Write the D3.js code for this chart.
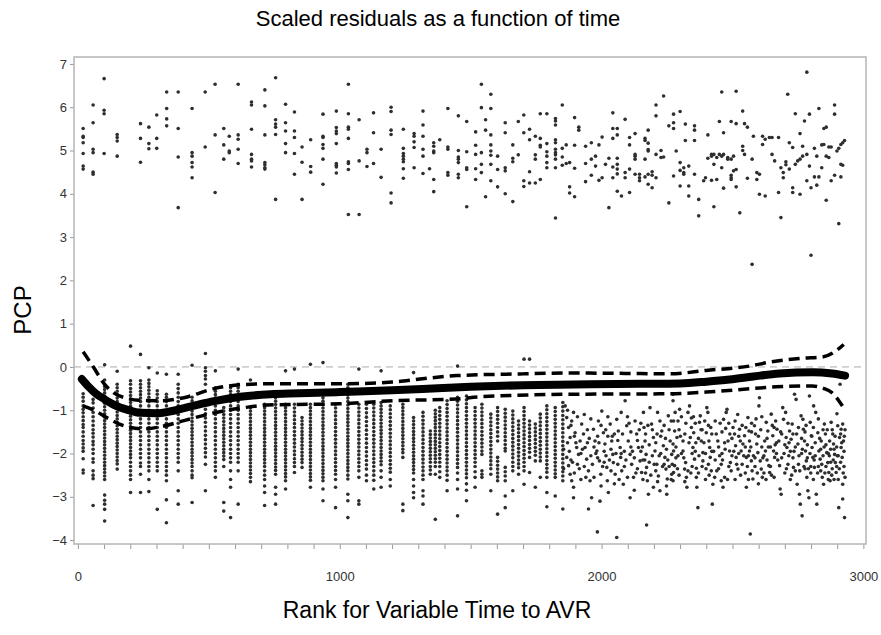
<!DOCTYPE html>
<html>
<head>
<meta charset="utf-8">
<script src="https://d3js.org/d3.v7.min.js"></script>
<style>
body { margin: 0; background: #fff; }
text { font-family: "Liberation Sans", Arial, sans-serif; }
</style>
</head>
<body>
<script>
// upper cluster, [rank, PCP]
let upperPts = [[20,5.51],[20,5.33],[20,5.30],[20,5.18],[20,4.93],[20,4.64],[20,4.57],
[58,6.05],[58,5.64],[58,5.03],[58,4.95],[58,4.50],[58,4.45],[100,6.66],[100,5.93],[100,5.85],[100,4.93],
[150,5.37],[150,5.30],[150,5.22],[150,4.87],[239,5.62],[239,5.28],[239,4.73],[271,5.54],[271,5.16],[271,5.04],
[301,5.82],[301,5.28],[301,5.05],[339,6.35],[339,5.97],[339,5.73],[339,5.57],[383,6.35],[383,5.51],[383,4.85],[383,3.68],
[436,5.97],[436,4.95],[436,4.87],[436,4.72],[436,4.62],[436,4.37],[486,6.35],[486,5.08],[524,6.53],[524,5.36],[524,4.03],
[557,5.51],[557,5.13],[557,4.80],[578,5.33],[578,4.99],[578,4.95],[612,6.53],[612,5.36],[612,5.26],[612,5.03],[612,4.70],
[663,6.12],[663,6.05],[663,5.49],[663,4.91],[663,4.80],[663,4.76],[663,4.62],[714,6.40],[714,6.03],[714,5.36],[714,4.72],[714,4.67],[714,4.60],[714,4.57],
[755,6.68],[755,5.71],[755,5.61],[755,5.54],[755,5.37],[755,3.87],[793,6.07],[793,5.64],[793,5.45],[793,5.16],[793,4.95],
[827,5.89],[827,5.45],[827,5.30],[827,4.93],[827,4.45],[856,5.08],[856,4.73],[856,3.87],[889,5.25],[889,4.63],[889,4.50],
[936,5.84],[936,5.33],[936,5.30],[936,5.14],[936,5.05],[936,4.80],[936,4.22],
[987,5.91],[987,5.53],[987,5.45],[987,5.39],[987,5.16],[987,4.70],[987,4.66],[987,4.62],[987,4.48],
[1033,6.53],[1033,5.85],[1033,5.54],[1033,5.49],[1033,5.28],[1033,4.74],[1033,4.70],[1033,4.56],[1033,3.52],
[1074,5.71],[1074,4.76],[1074,3.52],[1104,5.03],[1104,4.95],[1104,4.63],[1129,5.87],[1129,5.41],[1129,4.70],[1158,5.03],[1158,4.38],
[1196,6.00],[1196,5.90],[1196,5.47],[1196,5.37],[1196,4.02],[1196,3.79],
[1243,5.49],[1243,5.05],[1243,4.93],[1243,4.87],[1243,4.80],[1243,4.74],[1243,4.58],[1243,4.36],
[1284,5.39],[1284,5.33],[1284,5.20],[1284,5.07],[1284,4.60],[1318,5.91],[1318,5.59],[1318,5.33],[1318,5.03],[1318,4.87],[1318,4.47],
[1343,4.58],[1359,5.18],[1359,5.10],[1359,4.99],[1359,4.95],[1359,4.33],[1359,4.05],[1382,5.25],
[1413,5.97],[1413,5.08],[1413,5.03],[1413,4.49],[1413,4.43],[1453,5.80],[1453,5.00],[1453,4.85],[1453,4.80],[1453,4.72],[1453,4.45],[1453,4.37],
[1485,5.67],[1485,4.97],[1485,4.60],[1485,4.56],[1485,3.70],[1519,5.43],[1519,5.12],[1519,4.91],[1519,4.58],[1519,4.33],
[1541,6.53],[1541,5.99],[1541,4.95],[1541,4.68],[1541,4.49],[1557,5.71],[1557,5.47],[1557,3.93],
[1577,6.30],[1577,5.97],[1577,5.36],[1577,5.13],[1577,4.99],[1577,4.89],[1577,4.68],[1577,4.30],[1603,4.87],[1603,4.56],[1603,4.16],
[1632,5.64],[1632,5.41],[1632,4.60],[1632,4.53],[1632,4.00],[1661,5.13],[1661,4.82],[1661,4.74],[1661,3.82],[1682,5.67],[1682,4.90],
[1703,5.82],[1703,5.41],[1703,4.30],[1703,4.17],[1725,5.49],[1725,5.25],[1725,4.51],[1725,4.25],[1747,5.33],[1747,4.90],[1747,4.80],[1747,4.25],
[1766,5.85],[1766,5.28],[1766,5.12],[1766,5.08],[1766,4.33],[1791,5.85],[1791,5.16],[1791,4.97],[1791,4.87],[1791,4.72],[1791,4.60],
[1824,5.74],[1824,5.68],[1824,5.59],[1824,5.25],[1824,5.18],[1824,5.03],[1824,4.95],[1824,4.90],[1824,4.80],[1824,4.60],[1824,3.44],
[1850,6.05],[1850,5.05],[1850,4.85],[1850,4.66],[1865,5.13],[1865,4.70],[1878,4.72],[1878,4.16],[1878,4.02],
[1897,5.76],[1897,5.12],[1897,4.59],[1897,3.93],[1913,5.54],[1913,5.47],[1939,5.10],[1939,4.70],[1939,4.28],
[1961,5.18],[1961,4.80],[1961,4.43],[1977,4.87],[1977,4.64],[1990,5.13],[1990,4.31],[2002,5.31],[2002,4.37],[2015,4.68],[2028,4.82],[2028,3.68],
[2043,5.87],[2043,5.51],[2043,5.28],[2043,4.62],[2043,4.37],[2060,5.51],[2060,5.36],[2060,4.82],[2060,4.68],[2060,4.57],[2060,4.46],[2060,4.06],[2076,3.95],
[2090,5.72],[2090,4.49],[2090,4.37],[2107,5.30],[2107,5.13],[2107,4.57],[2107,4.03],[2128,5.39],[2128,4.91],[2128,4.87],[2128,4.80],[2128,4.45],
[2145,4.45],[2145,4.37],[2145,4.30],[2166,5.28],[2166,5.23],[2166,4.80],[2166,4.39],[2178,5.47],[2178,5.17],[2178,5.02],[2178,4.99],[2178,4.45],[2178,4.22],
[2193,4.51],[2193,4.43],[2193,4.14],[2208,6.05],[2208,5.80],[2208,4.91],[2208,4.37],[2227,5.00],[2227,4.84],[2237,6.26],[2237,4.85],
[2257,5.57],[2257,3.79],[2275,5.84],[2275,5.64],[2275,5.51],[2275,4.41],[2285,4.99],[2300,5.90],[2300,4.72],[2300,4.54],[2300,4.18],
[2314,4.60],[2314,4.49],[2314,4.45],[2320,5.61],[2320,5.23],[2333,4.64],[2333,4.18],[2333,3.95],[2355,5.57],[2355,5.47],[2355,5.23],[2355,4.45],
[2371,3.87],[2371,3.49],[2390,4.30],[2397,4.37],[2406,5.36],[2406,4.82],[2420,4.91],[2420,4.87],[2420,4.31],[2429,4.91],[2429,4.68],[2429,3.70],
[2440,4.84],[2440,4.33],[2450,5.67],[2450,4.91],[2459,6.35],[2459,4.87],[2459,4.60],[2466,5.41],[2466,4.91],[2466,4.13],[2482,4.84],[2482,4.80],
[2495,5.67],[2495,4.80],[2495,4.43],[2495,4.37],[2495,4.33],[2504,4.87],[2504,4.53],[2514,6.37],[2514,5.62],[2514,4.56],[2514,4.16],[2528,3.56],
[2539,5.91],[2539,5.10],[2539,5.00],[2546,5.62],[2546,4.91],[2557,5.54],[2557,4.36],[2575,2.37],[2575,4.80],[2580,5.33],[2593,4.49],[2593,4.33],
[2603,3.99],[2603,4.45],[2615,5.33],[2615,5.14],[2625,5.26],[2625,3.95],[2641,5.30],[2651,5.30],[2651,4.91],[2661,4.76],[2676,5.30],[2676,4.03],
[2685,4.60],[2685,3.45],[2694,4.37],[2694,4.49],[2704,4.74],[2704,4.67],[2711,6.30],[2717,5.18],[2717,4.57],[2730,5.07],[2730,4.03],[2730,4.14],
[2740,5.85],[2740,4.68],[2749,4.76],[2758,5.39],[2758,4.80],[2758,3.99],[2768,5.10],[2768,4.87],[2775,5.68],[2784,6.81],[2784,4.91],[2784,4.30],
[2794,5.84],[2794,4.64],[2800,2.58],[2800,4.14],[2813,5.05],[2813,4.39],[2822,4.87],[2822,4.20],[2830,5.97],[2830,4.39],[2841,5.13],[2841,4.60],
[2849,5.51],[2849,5.14],[2858,5.54],[2858,4.87],[2858,3.85],[2868,5.08],[2868,4.84],[2877,5.08],[2877,4.30],[2890,6.05],[2890,5.84],[2890,4.43],
[2899,4.99],[2906,3.31],[2906,5.05],[2914,4.39],[2914,4.68],[2914,5.14],[2921,5.18],[2921,4.66],[2928,5.23]]

// lower cluster, tied ranks stacked in columns: [rank, [PCP...]]
let lowerCols = [
[20,[-0.62,-0.7,-0.79,-0.9,-0.98,-1.06,-1.15,-1.24,-1.33,-1.4,-1.5,-1.6,-1.7,-1.78,-1.87,-1.95,-2.12,-2.38,-2.45]],
[58,[-0.75,-0.83,-0.95,-1.05,-1.15,-1.25,-1.35,-1.45,-1.53,-1.62,-1.72,-1.8,-1.9,-2.0,-2.12,-2.2,-2.4,-2.5,-2.58,-3.2]],
[102,[0.05,-0.3,-0.45,-0.52,-0.6,-0.68,-0.76,-0.84,-0.92,-1.0,-1.08,-1.16,-1.24,-1.32,-1.4,-1.48,-1.56,-1.64,-1.72,-1.8,-1.88,-1.96,-2.04,-2.12,-2.2,-2.28,-2.36,-2.44,-2.52,-2.6,-2.96,-3.08,-3.17,-3.29,-3.56]],
[150,[-0.1,-0.4,-0.48,-0.56,-0.64,-0.72,-0.8,-0.88,-0.96,-1.04,-1.12,-1.2,-1.28,-1.36,-1.44,-1.52,-1.6,-1.68,-1.76,-1.84,-1.92,-2.0,-2.08,-2.16,-2.24,-2.36]],
[201,[0.48,-0.32,-0.4,-0.5,-0.58,-0.66,-0.74,-0.82,-0.9,-0.98,-1.06,-1.14,-1.22,-1.3,-1.38,-1.46,-1.54,-1.62,-1.7,-1.78,-1.86,-1.94,-2.02,-2.1,-2.2,-2.3,-2.4,-2.5,-2.6,-2.9]],
[239,[0.29,-0.32,-0.4,-0.48,-0.56,-0.64,-0.72,-0.8,-0.9,-1.0,-1.1,-1.2,-1.3,-1.4,-1.5,-1.6,-1.7,-1.8,-1.9,-2.0,-2.1,-2.22,-2.3,-2.48,-2.9]],
[271,[-0.02,-0.3,-0.38,-0.46,-0.54,-0.62,-0.7,-0.8,-0.9,-1.0,-1.1,-1.2,-1.3,-1.4,-1.5,-1.6,-1.7,-1.8,-1.9,-2.0,-2.1,-2.2,-2.3,-2.4,-2.6,-2.88]],
[303,[-0.14,-0.55,-0.63,-0.72,-0.8,-0.9,-1.0,-1.1,-1.2,-1.3,-1.4,-1.5,-1.6,-1.7,-1.8,-1.9,-2.0,-2.1,-2.2,-2.3,-2.4,-3.29]],
[338,[-0.17,-0.63,-0.7,-0.8,-0.9,-1.0,-1.1,-1.2,-1.3,-1.4,-1.5,-1.6,-1.7,-1.8,-1.9,-2.0,-2.1,-2.2,-2.3,-2.4,-2.5,-2.63,-3.07,-3.6]],
[383,[-0.17,-0.4,-0.5,-0.6,-0.7,-0.8,-0.9,-1.0,-1.1,-1.2,-1.3,-1.4,-1.5,-1.6,-1.7,-1.8,-1.9,-2.0,-2.1,-2.2,-2.4,-2.86,-3.17]],
[436,[0.04,-0.7,-0.78,-0.86,-0.94,-1.02,-1.1,-1.18,-1.26,-1.34,-1.42,-1.5,-1.58,-1.66,-1.74,-1.82,-1.9,-1.98,-2.06,-2.14,-2.22,-2.3,-2.4,-2.5,-2.56,-3.13]],
[487,[0.31,-0.02,-0.1,-0.2,-0.28,-0.4,-0.78,-0.88,-0.98,-1.08,-1.18,-1.28,-1.38,-1.48,-1.58,-1.68,-1.78,-1.88,-1.98,-2.08,-2.25,-2.86]],
[525,[-0.09,-0.48,-0.56,-0.64,-0.72,-0.8,-0.9,-1.0,-1.1,-1.2,-1.3,-1.4,-1.5,-1.6,-1.7,-1.8,-1.9,-2.0,-2.1,-2.2,-2.3,-2.4,-2.55]],
[557,[-0.94,-1.02,-1.1,-1.18,-1.26,-1.34,-1.42,-1.5,-1.58,-1.66,-1.74,-1.82,-1.9,-1.98,-2.06,-2.14,-2.3,-3.13,-3.33]],
[583,[-0.48,-0.56,-0.64,-0.72,-0.8,-0.9,-1.0,-1.1,-1.2,-1.3,-1.4,-1.5,-1.6,-1.7,-1.8,-1.9,-2.0,-2.1,-2.2,-2.4,-2.6,-2.78,-3.48]],
[612,[-0.05,-0.4,-0.48,-0.56,-0.64,-0.72,-0.8,-0.9,-1.0,-1.1,-1.2,-1.3,-1.4,-1.5,-1.6,-1.7,-1.8,-1.9,-2.0,-2.1,-2.2,-2.4,-3.17]],
[659,[-0.3,-0.94,-1.02,-1.1,-1.18,-1.26,-1.34,-1.42,-1.5,-1.58,-1.66,-1.74,-1.82,-1.9,-1.98,-2.06,-2.14,-2.22,-2.3,-2.38,-2.46,-2.55,-2.65]],
[713,[-0.86,-0.94,-1.02,-1.1,-1.18,-1.26,-1.34,-1.42,-1.5,-1.58,-1.66,-1.74,-1.82,-1.9,-1.98,-2.06,-2.14,-2.22,-2.3,-2.4,-2.5,-2.6,-2.75,-2.9,-3.2]],
[755,[-0.71,-0.79,-0.87,-0.95,-1.03,-1.11,-1.19,-1.27,-1.35,-1.43,-1.51,-1.59,-1.67,-1.75,-1.83,-1.91,-1.99,-2.07,-2.15,-2.23,-2.31,-2.39,-2.48,-2.78,-2.94,-3.17]],
[793,[-0.09,-0.86,-0.94,-1.02,-1.1,-1.18,-1.26,-1.34,-1.42,-1.5,-1.58,-1.66,-1.74,-1.82,-1.9,-1.98,-2.06,-2.14,-2.22,-2.3,-2.38,-2.46,-2.54,-2.63,-2.82]],
[827,[-0.05,-0.86,-0.95,-1.04,-1.13,-1.22,-1.31,-1.4,-1.49,-1.58,-1.67,-1.76,-1.85,-1.94,-2.03,-2.12,-2.21,-2.3,-2.44]],
[856,[-1.17,-1.25,-1.33,-1.41,-1.49,-1.57,-1.65,-1.73,-1.81,-1.89,-1.97,-2.05,-2.13,-2.21,-2.32]],
[888,[0.06,-0.86,-0.94,-1.02,-1.1,-1.18,-1.26,-1.34,-1.42,-1.5,-1.58,-1.66,-1.74,-1.82,-1.9,-1.98,-2.06,-2.14,-2.22,-2.3,-2.38,-2.46,-2.54,-2.62,-2.78]],
[936,[0.1,-0.55,-0.63,-0.71,-0.79,-0.87,-0.95,-1.03,-1.11,-1.19,-1.27,-1.35,-1.43,-1.51,-1.59,-1.67,-1.75,-1.83,-1.91,-1.99,-2.07,-2.15,-2.23,-2.31,-2.39,-2.47,-2.55,-2.63,-2.82,-3.09]],
[984,[-0.86,-0.95,-1.04,-1.13,-1.22,-1.31,-1.4,-1.49,-1.58,-1.67,-1.76,-1.85,-1.94,-2.03,-2.12,-2.21,-2.3,-2.39,-2.48,-2.6,-2.78,-3.25]],
[1031,[-0.4,-0.48,-0.56,-0.64,-0.72,-0.8,-0.88,-0.96,-1.04,-1.12,-1.2,-1.28,-1.36,-1.44,-1.52,-1.6,-1.68,-1.76,-1.84,-1.92,-2.0,-2.08,-2.16,-2.24,-2.32,-2.4,-2.5,-2.59,-2.94,-3.09,-3.48]],
[1073,[-0.05,-0.86,-0.95,-1.04,-1.13,-1.22,-1.31,-1.4,-1.49,-1.58,-1.67,-1.76,-1.85,-1.94,-2.03,-2.12,-2.21,-2.3,-2.4,-2.55,-3.09,-3.17]],
[1102,[-0.86,-0.96,-1.06,-1.16,-1.26,-1.36,-1.46,-1.56,-1.66,-1.76,-1.86,-1.96,-2.06,-2.16,-2.26,-2.36,-2.5,-2.63]],
[1130,[-0.86,-0.95,-1.04,-1.13,-1.22,-1.31,-1.4,-1.49,-1.58,-1.67,-1.76,-1.85,-1.94,-2.03,-2.12,-2.21,-2.3,-2.4,-2.5,-2.62,-2.82]],
[1158,[-0.09,-0.82,-0.9,-0.98,-1.06,-1.14,-1.22,-1.3,-1.38,-1.46,-1.54,-1.62,-1.7,-1.78,-1.86,-1.94,-2.02,-2.1,-2.18,-2.26,-2.4,-2.55,-2.78]],
[1193,[-0.9,-0.99,-1.08,-1.17,-1.26,-1.35,-1.44,-1.53,-1.62,-1.71,-1.8,-1.89,-1.98,-2.07,-2.16,-2.25,-2.34,-2.43,-2.6,-2.75]],
[1241,[-0.86,-0.94,-1.02,-1.1,-1.18,-1.26,-1.34,-1.42,-1.5,-1.58,-1.66,-1.74,-1.82,-1.9,-1.98,-2.09,-3.17,-3.32]],
[1282,[-0.13,-1.17,-1.25,-1.33,-1.41,-1.49,-1.57,-1.65,-1.73,-1.81,-1.89,-1.97,-2.05,-2.13,-2.21,-2.29,-2.37,-2.45,-2.6,-2.75,-2.9,-3.02]],
[1318,[-1.05,-1.14,-1.23,-1.32,-1.41,-1.5,-1.59,-1.68,-1.77,-1.86,-1.95,-2.04,-2.13,-2.22,-2.31,-2.4,-2.5,-2.6,-2.86,-2.98,-3.17]],
[1346,[-1.48,-1.56,-1.64,-1.72,-1.8,-1.88,-1.96,-2.04,-2.12,-2.2,-2.3,-2.38,-2.48]],
[1365,[-1.0,-1.08,-1.16,-1.24,-1.32,-1.4,-1.48,-1.56,-1.64,-1.72,-1.8,-1.88,-1.96,-2.04,-2.12,-2.2,-2.3,-2.48,-3.52]],
[1382,[-0.94,-1.03,-1.12,-1.21,-1.3,-1.39,-1.48,-1.57,-1.66,-1.75,-1.84,-1.93,-2.02,-2.11,-2.2,-2.3,-2.42,-2.55]],
[1410,[-0.78,-0.87,-0.96,-1.05,-1.14,-1.23,-1.32,-1.41,-1.5,-1.59,-1.68,-1.77,-1.86,-1.95,-2.04,-2.13,-2.22,-2.31,-2.4,-2.5,-2.62,-2.86]],
[1450,[0.02,-0.7,-0.79,-0.88,-0.97,-1.06,-1.15,-1.24,-1.33,-1.42,-1.51,-1.6,-1.69,-1.78,-1.87,-1.96,-2.05,-2.14,-2.23,-2.32,-2.45,-2.6,-2.82,-3.44]],
[1484,[-0.67,-0.76,-0.85,-0.94,-1.03,-1.12,-1.21,-1.3,-1.39,-1.48,-1.57,-1.66,-1.75,-1.84,-1.93,-2.02,-2.11,-2.2,-2.29,-2.38,-2.47,-2.56,-2.7,-2.85,-3.09]],
[1517,[-0.94,-1.03,-1.12,-1.21,-1.3,-1.39,-1.48,-1.57,-1.66,-1.75,-1.84,-1.93,-2.02,-2.11,-2.2,-2.3,-2.42,-2.55,-2.78]],
[1543,[-0.86,-0.95,-1.04,-1.13,-1.22,-1.31,-1.4,-1.49,-1.58,-1.67,-1.76,-1.85,-1.94,-2.02,-2.4,-2.48,-2.55]],
[1577,[-1.09,-1.18,-1.27,-1.36,-1.45,-1.54,-1.63,-1.72,-1.81,-1.9,-1.99,-2.08,-2.17,-2.26,-2.35,-2.48,-2.86]],
[1603,[-0.94,-1.03,-1.12,-1.21,-1.3,-1.4,-1.5,-1.6,-1.71,-2.09,-2.18,-2.27,-2.36,-2.45,-2.54,-2.63,-3.4]],
[1632,[-0.98,-1.07,-1.16,-1.25,-1.34,-1.43,-1.52,-1.61,-1.7,-1.79,-1.88,-1.94,-2.32,-2.42,-2.52,-2.63,-2.98,-3.25]],
[1661,[-1.02,-1.11,-1.2,-1.29,-1.38,-1.47,-1.56,-1.65,-1.74,-1.83,-1.92,-2.01,-2.1,-2.2,-2.3,-2.4,-2.86]],
[1683,[-1.25,-1.34,-1.43,-1.52,-1.61,-1.7,-1.79,-1.88,-1.97,-2.06,-2.15,-2.24,-2.33,-2.48]],
[1704,[0.18,-0.94,-1.03,-1.12,-1.21,-1.3,-1.39,-1.48,-1.57,-1.66,-1.75,-1.84,-1.93,-2.02,-2.11,-2.2,-2.3,-2.4,-2.71]],
[1725,[0.18,-1.25,-1.34,-1.43,-1.52,-1.61,-1.7,-1.79,-1.88,-1.97,-2.09,-2.44]],
[1747,[-1.32,-1.41,-1.5,-1.59,-1.68,-1.77,-1.86,-1.95,-2.04,-2.17,-2.78]],
[1766,[-1.09,-1.18,-1.27,-1.36,-1.45,-1.54,-1.63,-1.72,-1.81,-1.9,-1.99,-2.08,-2.17,-2.55]],
[1791,[-0.9,-0.99,-1.08,-1.17,-1.26,-1.35,-1.44,-1.53,-1.62,-1.71,-1.8,-1.89,-1.98,-2.07,-2.16,-2.25,-2.34,-2.43,-2.55,-2.9,-3.23]],
[1823,[-0.94,-1.03,-1.12,-1.21,-1.3,-1.39,-1.48,-1.57,-1.66,-1.75,-1.84,-1.93,-2.02,-2.11,-2.2,-2.29,-2.38,-2.47,-2.55,-2.98]],
[1852,[-0.82,-0.92,-1.02,-1.12,-1.22,-1.32,-1.42,-1.52,-1.62,-1.72,-1.82,-1.92,-2.02,-2.12,-2.22,-2.32,-2.42,-2.52,-2.63]]
]

// lower cluster, late ranks where ties thin out: [rank, PCP]
let lowerPts = [[1861,-0.9],[1867,-1.17],[1874,-1.4],[1880,-1.63],[1886,-1.25],[1893,-1.05],[1899,-1.52],[1905,-1.86],[1912,-2.02],[1867,-2.09],
[1874,-2.28],[1880,-2.48],[1886,-2.63],[1893,-2.78],[1918,-1.71],[1924,-1.32],[1931,-1.55],[1937,-1.86],[1943,-2.13],[1950,-2.4],[1956,-2.63],
[1962,-3.02],[1969,-1.44],[1975,-1.71],[1982,-1.94],[1988,-1.25],[1992,-2.17],[1997,-2.48],[2001,-1.02],[2007,-1.52],[2013,-1.78],[2017,-2.05],
[2020,-2.32],[2022,-2.63],[2026,-2.9],[2033,-1.32],[2039,-1.71],[2043,-2.02],[2045,-2.21],[2052,-2.48],[2058,-1.21],[2064,-1.48],[2071,-1.86],
[2073,-2.09],[2077,-2.4],[2083,-2.71],[2090,-0.78],[2096,-1.36],[2102,-1.71],[2109,-2.02],[2115,-2.25],[2122,-2.55],[2128,-1.25],[2134,-1.55],
[2141,-1.86],[2147,-2.17],[2153,-2.44],[2160,-1.05],[2162,-1.4],[2166,-1.71],[2170,-2.02],[2172,-2.32],[2175,-2.63],[2179,-2.94],[2185,-0.94],
[2191,-1.32],[2198,-1.63],[2204,-1.94],[2211,-2.25],[2217,-2.52],[2223,-1.25],[2230,-1.48],[2236,-1.82],[2242,-2.09],[2246,-2.36],[2251,-2.59],
[2255,-1.13],[2262,-1.71],[2268,-2.02],[1984,-3.81],[2058,-3.94],[2172,-3.65],[1950,-3.28],[1852,-3.28],[1893,-3.02],[1994,-3.1],[2109,-3.02],
[2198,-2.78],[2223,-2.86],[2249,-2.94],[2268,-2.48],
[2273,-0.63],[2273,-0.78],[2298,-0.98],[2292,-1.25],[2275,-1.25],[2279,-1.48],[2288,-1.63],[2273,-1.78],[2275,-1.94],[2292,-2.05],[2279,-2.28],
[2275,-2.44],[2273,-2.63],[2311,-1.71],[2311,-1.94],[2321,-2.21],[2317,-2.36],[2324,-2.55],[2326,-2.78],[2336,-0.9],[2343,-1.18],[2343,-1.4],
[2339,-1.63],[2352,-1.52],[2349,-1.86],[2355,-2.13],[2362,-2.34],[2362,-2.55],[2364,-2.78],[2368,-3.25],[2374,-1.28],[2377,-1.13],[2381,-1.71],
[2387,-1.98],[2387,-2.17],[2394,-1.25],[2400,-1.52],[2402,-0.94],[2406,-1.05],[2410,-1.71],[2413,-1.86],[2415,-2.09],[2419,-2.4],[2423,-3.17],
[2425,-2.71],[2432,-2.55],[2438,-1.55],[2444,-1.71],[2451,-2.05],[2457,-2.25],[2457,-2.63],[2464,-2.78],[2466,-1.21],[2474,-1.42],[2476,-1.05],
[2479,-0.98],[2483,-1.71],[2489,-1.94],[2492,-2.21],[2495,-2.4],[2502,-1.4],[2508,-1.55],[2512,-1.82],[2514,-2.09],[2521,-2.36],[2527,-1.44],
[2530,-1.71],[2533,-1.94],[2540,-1.78],[2546,-1.59],[2553,-2.09],[2553,-2.78],[2559,-1.17],[2563,-1.48],[2565,-1.71],[2565,-1.94],[2572,-2.17],
[2568,-3.86],[2575,-2.4],[2578,-2.59],[2584,-1.36],[2588,-1.55],[2593,-1.78],[2597,-1.98],[2601,-0.9],[2603,-0.71],[2606,-2.17],[2610,-2.36],
[2614,-2.55],[2623,-1.71],[2626,-1.94],[2629,-1.28],[2635,-1.48],[2639,-2.28],[2642,-2.44],[2648,-1.09],[2654,-1.59],[2657,-1.94],[2661,-2.09],
[2665,-1.25],[2670,-1.44],[2677,-1.71],[2680,-2.28],[2682,-2.82],[2686,-2.94],[2692,-0.94],[2695,-1.21],[2703,-1.05],[2705,-1.63],[2708,-1.86],
[2715,-2.05],[2718,-1.48],[2724,-1.67],[2728,-1.32],[2733,-2.32],[2737,-0.63],[2743,-0.75],[2747,-2.71],[2750,-1.78],[2754,-2.05],[2756,-2.94],
[2759,-3.17],[2762,-1.13],[2766,-3.44],[2769,-1.21],[2771,-1.44],[2775,-1.71],[2779,-1.94],[2782,-2.17],[2784,-2.55],[2788,-2.86],[2792,-3.02],
[2794,-0.67],[2797,-1.28],[2801,-1.59],[2804,-1.86],[2807,-2.09],[2810,-0.9],[2813,-2.32],[2820,-2.94],[2822,-3.17],[2826,-1.52],[2830,-1.94],
[2835,-2.13],[2839,-1.71],[2843,-2.55],[2848,-2.71],[2851,-1.32],[2855,-1.55],[2860,-1.98],[2864,-2.21],[2868,-2.44],[2871,-1.71],[2873,-2.63],
[2877,-1.28],[2883,-1.55],[2886,-1.78],[2890,-2.02],[2893,-2.21],[2896,-2.44],[2899,-1.08],[2902,-1.36],[2906,-3.25],[2909,-1.63],[2911,-0.4],
[2915,-1.86],[2915,-1.44],[2919,-2.09],[2921,-2.71],[2921,-3.05],[2928,-3.48],[2924,-1.71],[2921,-1.32],
[1855,-1.9],[1855,-2.35],[1870,-1.0],[1870,-1.75],[1883,-2.15],[1883,-1.35],[1896,-1.6],[1896,-2.45],[1908,-1.15],[1908,-2.25],
[1921,-2.0],[1921,-2.6],[1934,-1.1],[1934,-2.3],[1946,-1.75],[1946,-1.45],[1959,-2.05],[1959,-1.2],[1971,-2.55],[1971,-1.85],
[1985,-1.6],[1985,-2.1],[1998,-1.35],[1998,-2.75],[2010,-2.2],[2010,-1.95],[2024,-1.6],[2024,-1.15],[2036,-2.4],[2036,-1.9],
[2049,-1.55],[2049,-2.7],[2062,-2.25],[2062,-1.7],[2075,-1.05],[2075,-2.0],[2087,-1.95],[2087,-2.3],[2099,-2.55],[2099,-1.15],
[2112,-1.5],[2112,-1.85],[2125,-2.1],[2125,-2.85],[2137,-1.7],[2137,-2.35],[2150,-1.3],[2150,-1.95],[2158,-2.6],[2158,-2.15],
[2168,-1.55],[2168,-2.45],[2182,-1.8],[2182,-2.2],[2194,-1.45],[2194,-2.05],[2207,-1.75],[2207,-2.4],[2214,-1.05],[2214,-2.65],
[2226,-2.0],[2226,-1.6],[2239,-2.25],[2239,-1.35],[2248,-1.9],[2248,-2.75],[2258,-1.45],[2258,-2.3],[2266,-1.25],[2266,-2.6],
[2284,-1.85],[2284,-2.1],[2296,-1.45],[2296,-2.5],[2305,-1.15],[2305,-2.0],[2318,-1.55],[2318,-2.65],[2330,-1.05],[2330,-2.4],
[2346,-2.0],[2346,-2.3],[2358,-1.3],[2358,-1.95],[2370,-1.65],[2370,-2.45],[2384,-1.45],[2384,-2.3],[2397,-2.0],[2397,-2.6],
[2408,-1.35],[2408,-2.25],[2421,-1.55],[2421,-1.95],[2434,-1.25],[2434,-2.15],[2447,-1.85],[2447,-2.35],[2460,-1.5],[2460,-2.0],
[2470,-1.75],[2470,-2.55],[2486,-1.3],[2486,-2.3],[2498,-1.65],[2498,-2.05],[2510,-1.25],[2510,-2.6],[2524,-2.0],[2524,-1.6],
[2537,-1.35],[2537,-2.25],[2549,-1.85],[2549,-2.45],[2561,-2.05],[2561,-2.6],[2573,-1.5],[2573,-1.3],[2586,-2.1],[2586,-2.3],
[2599,-1.6],[2599,-2.7],[2612,-1.85],[2612,-1.15],[2620,-2.05],[2620,-2.45],[2632,-1.65],[2632,-2.15],[2645,-1.85],[2645,-2.3],
[2659,-1.4],[2659,-2.55],[2668,-2.0],[2668,-1.75],[2688,-1.55],[2688,-2.1],[2700,-1.8],[2700,-2.45],[2712,-1.3],[2712,-2.25],
[2721,-1.95],[2721,-2.6],[2731,-1.55],[2731,-2.1],[2740,-1.85],[2740,-2.4],[2752,-1.4],[2752,-2.25],[2764,-1.65],[2764,-2.0],
[2777,-2.35],[2777,-1.5],[2786,-1.8],[2786,-2.1],[2799,-2.3],[2799,-2.45],[2809,-1.4],[2809,-2.6],[2816,-1.75],[2816,-2.05],
[2828,-2.3],[2828,-1.2],[2837,-1.9],[2837,-2.4],[2846,-2.05],[2846,-1.45],[2857,-2.3],[2857,-1.8],[2866,-2.0],[2866,-2.6],
[2875,-1.9],[2875,-2.2],[2881,-2.35],[2881,-1.45],[2888,-2.6],[2888,-1.9],[2898,-1.85],[2898,-2.3],[2904,-2.05],[2904,-2.6],
[2913,-2.2],[2913,-1.55],[2926,-1.95],[2926,-2.3],[2930,-1.45],[2930,-2.55],
[1877,-1.95],[1889,-2.2],[1902,-1.75],[1915,-2.35],[1927,-1.9],[1940,-2.55],[1953,-1.65],[1965,-2.25],[1978,-2.0],[1990,-1.75],
[2004,-2.3],[2016,-1.45],[2030,-2.15],[2041,-1.6],[2055,-2.0],[2067,-2.6],[2080,-1.55],[2093,-2.15],[2105,-1.3],[2118,-1.95],
[2131,-2.45],[2144,-1.45],[2156,-1.85],[2165,-2.15],[2177,-1.35],[2188,-2.5],[2201,-2.25],[2212,-1.55],[2220,-2.05],[2233,-2.3],
[2244,-1.65],[2253,-2.15],[2270,-2.25],[2281,-1.05],[2290,-2.35],[2301,-1.6],[2314,-2.1],[2322,-1.3],[2334,-1.75],[2341,-2.45],
[2351,-1.15],[2360,-1.75],[2372,-2.05],[2380,-1.45],[2391,-1.75],[2399,-2.35],[2411,-2.5],[2417,-1.4],[2428,-1.95],[2440,-2.4],
[2453,-1.3],[2462,-2.15],[2472,-1.9],[2481,-2.6],[2490,-1.55],[2505,-1.95],[2516,-2.25],[2520,-1.1],[2531,-2.5],[2543,-2.05],
[2551,-1.4],[2557,-2.3],[2570,-1.85],[2580,-2.05],[2590,-1.2],[2595,-2.45],[2608,-1.45],[2616,-2.1],[2628,-2.6],[2637,-1.85],
[2649,-2.5],[2652,-1.35],[2663,-1.8],[2673,-2.15],[2684,-1.5],[2697,-2.0],[2706,-2.35],[2716,-1.75],[2726,-2.5],[2735,-1.95],
[2745,-1.55],[2757,-2.4],[2767,-1.9],[2773,-2.3],[2781,-1.35],[2790,-2.35],[2796,-2.0],[2803,-1.6],[2812,-2.15],[2818,-1.05],
[2825,-2.45],[2833,-1.65],[2841,-2.25],[2850,-1.85],[2853,-2.45],[2862,-1.45],[2870,-2.05],[2879,-2.5],[2885,-2.15],[2892,-1.6],
[2900,-2.05],[2908,-2.35],[2917,-1.75],[2923,-2.45],[2927,-1.6]]

// smoothed fit and its confidence band
let fitMid = [[15,-0.28],[40,-0.45],[70,-0.62],[100,-0.74],[140,-0.88],[190,-0.99],[240,-1.06],[300,-1.07],[350,-1.03],[405,-0.95],[460,-0.87],
[520,-0.79],[620,-0.69],[735,-0.63],[845,-0.61],[1000,-0.58],[1200,-0.54],[1316,-0.51],[1500,-0.46],[1700,-0.42],[1955,-0.4],[2150,-0.39],
[2300,-0.38],[2400,-0.34],[2490,-0.29],[2580,-0.22],[2680,-0.15],[2805,-0.12],[2880,-0.15],[2930,-0.2]]
let fitUpper = [[20,0.35],[61,-0.02],[99,-0.38],[137,-0.6],[185,-0.72],[233,-0.77],[317,-0.78],[405,-0.71],[520,-0.5],[622,-0.41],[722,-0.39],
[1000,-0.39],[1200,-0.35],[1307,-0.28],[1447,-0.2],[1700,-0.16],[1893,-0.14],[2100,-0.15],[2260,-0.16],[2400,-0.08],[2565,0.02],[2641,0.11],
[2767,0.2],[2844,0.23],[2890,0.35],[2925,0.52]]
let fitLower = [[20,-0.9],[61,-1.0],[110,-1.17],[176,-1.36],[252,-1.43],[317,-1.38],[405,-1.24],[520,-1.06],[634,-0.94],[722,-0.88],[1000,-0.85],
[1206,-0.78],[1447,-0.74],[1530,-0.69],[1893,-0.63],[2260,-0.62],[2400,-0.58],[2515,-0.53],[2667,-0.46],[2805,-0.44],[2850,-0.5],[2881,-0.6],[2920,-0.9]]

let yTicks = [-4,-3,-2,-1,0,1,2,3,4,5,6,7]
let xTicks = [0,1000,2000,3000]

const width = 881
const height = 635
const mLeft = 74, mRight = 866, mTop = 57, mBottom = 544

let svg = d3.select("body")
	.append("svg")
		.attr("width", width)
		.attr("height", height)

let x = d3.scaleLinear().domain([-15, 3010]).range([mLeft, mRight])
let y = d3.scaleLinear().domain([-4.09, 7.16]).range([mBottom, mTop])

// TITLES
svg.append("text")
	.attr("x", 438).attr("y", 26)
	.attr("text-anchor", "middle")
	.style("font-size", "22px")
	.text("Scaled residuals as a function of time")

svg.append("text")
	.attr("transform", "translate(31,310) rotate(-90)")
	.attr("text-anchor", "middle")
	.style("font-size", "24px")
	.text("PCP")

svg.append("text")
	.attr("x", 437).attr("y", 618)
	.attr("text-anchor", "middle")
	.style("font-size", "23px")
	.text("Rank for Variable Time to AVR")

// AXES
let yAxis = svg.append("g")
	.attr("transform", `translate(${mLeft},0)`)
	.call(d3.axisLeft(y).tickValues(yTicks).tickSize(4).tickPadding(3)
		.tickFormat(d => d < 0 ? "\u2212" + (-d) : d))
yAxis.select(".domain").remove()
yAxis.selectAll("line").attr("stroke", "#999")
yAxis.selectAll("text").style("font-size", "13px").attr("fill", "#333")

let xAxis = svg.append("g")
	.attr("transform", `translate(0,${mBottom})`)
	.call(d3.axisBottom(x).tickValues(d3.range(0, 3001, 100)).tickSize(5).tickFormat(""))
xAxis.select(".domain").remove()
xAxis.selectAll("line").attr("stroke", "#999")

svg.append("g")
	.attr("transform", `translate(0,${mBottom})`)
	.call(d3.axisBottom(x).tickValues(xTicks).tickSize(0).tickPadding(28).tickFormat(d3.format("d")))
	.call(g => g.select(".domain").remove())
	.selectAll("text")
		.style("font-size", "13px")
		.style("font-family", "'Liberation Sans Narrow', 'Liberation Sans', Arial, sans-serif")
		.style("font-stretch", "condensed")
		.attr("fill", "#333")

// FRAME
svg.append("rect")
	.attr("x", mLeft).attr("y", mTop)
	.attr("width", mRight - mLeft).attr("height", mBottom - mTop)
	.attr("fill", "none")
	.attr("stroke", "#b5b5b5")
	.attr("stroke-width", 1.5)

// ZERO REFERENCE
svg.append("line")
	.attr("x1", mLeft).attr("x2", mRight)
	.attr("y1", y(0)).attr("y2", y(0))
	.attr("stroke", "#aaa")
	.attr("stroke-dasharray", "7,5")

// POINTS
let allPts = upperPts.concat(lowerPts)
lowerCols.forEach(c => c[1].forEach(v => allPts.push([c[0], v])))

svg.append("g")
	.selectAll("circle")
	.data(allPts)
	.enter()
	.append("circle")
		.attr("cx", d => x(d[0]))
		.attr("cy", d => y(d[1]))
		.attr("r", 1.8)
		.attr("fill", "#2e2e2e")

// FIT LINES
let line = d3.line()
	.x(d => x(d[0]))
	.y(d => y(d[1]))
	.curve(d3.curveMonotoneX)

svg.append("path")
	.datum(fitUpper)
	.attr("d", line)
	.attr("fill", "none")
	.attr("stroke", "#000")
	.attr("stroke-width", 3.5)
	.attr("stroke-dasharray", "11,6")

svg.append("path")
	.datum(fitLower)
	.attr("d", line)
	.attr("fill", "none")
	.attr("stroke", "#000")
	.attr("stroke-width", 3.5)
	.attr("stroke-dasharray", "11,6")

svg.append("path")
	.datum(fitMid)
	.attr("d", line)
	.attr("fill", "none")
	.attr("stroke", "#000")
	.attr("stroke-width", 8)
	.attr("stroke-linecap", "round")
</script>
</body>
</html>
